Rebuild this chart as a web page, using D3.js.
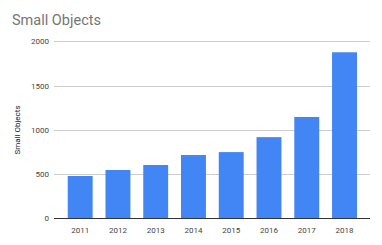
<!DOCTYPE html>
<html>
<head>
<meta charset="utf-8">
<script src="https://cdn.jsdelivr.net/npm/d3@7"></script>
<style>
  body { margin: 0; background: #fff; }
  text { font-family: Roboto, Arial, sans-serif; }
</style>
</head>
<body>
<div id="chart"></div>
<script>
var years = ["2011", "2012", "2013", "2014", "2015", "2016", "2017", "2018"];
var counts = [478, 546, 602, 715, 748, 917, 1145, 1876];
var yTicks = [0, 500, 1000, 1500, 2000];

var width = 382, height = 245;

var svg = d3.select("#chart")
    .append("svg")
    .attr("width", width)
    .attr("height", height);

var x = d3.scaleBand()
    .domain(years)
    .range([61.3, 363.4])
    .paddingInner(0.34)
    .paddingOuter(0.17);

var y = d3.scaleLinear()
    .domain([0, 2000])
    .range([218.3, 41.3]);

// gridlines
svg.selectAll(".grid")
    .data(yTicks.filter(function (d) { return d > 0; }))
    .enter()
    .append("line")
    .attr("x1", 54)
    .attr("x2", 370)
    .attr("y1", function (d) { return Math.round(y(d)) + 0.5; })
    .attr("y2", function (d) { return Math.round(y(d)) + 0.5; })
    .style("stroke", "#cccccc")
    .style("stroke-width", 1);

svg.selectAll(".ytick")
    .data(yTicks)
    .enter()
    .append("text")
    .attr("x", 49)
    .attr("y", function (d) { return y(d) + 3; })
    .attr("text-anchor", "end")
    .style("font-size", "8px")
    .style("fill", "#444")
    .text(function (d) { return d; });

// bars
svg.selectAll(".bar")
    .data(counts)
    .enter()
    .append("rect")
    .attr("x", function (d, i) { return x(years[i]); })
    .attr("width", x.bandwidth())
    .attr("y", function (d) { return y(d); })
    .attr("height", function (d) { return y(0) - y(d); })
    .style("fill", "#4285f4");

// baseline
svg.append("line")
    .attr("x1", 54)
    .attr("x2", 370)
    .attr("y1", Math.round(y(0)) + 0.5)
    .attr("y2", Math.round(y(0)) + 0.5)
    .style("stroke", "#333")
    .style("stroke-width", 1);

svg.selectAll(".xtick")
    .data(years)
    .enter()
    .append("text")
    .attr("x", function (d) { return x(d) + x.bandwidth() / 2; })
    .attr("y", 233)
    .attr("text-anchor", "middle")
    .style("font-size", "8px")
    .style("fill", "#444")
    .text(function (d) { return d; });

// titles
svg.append("text")
    .attr("x", 12)
    .attr("y", 25)
    .style("font-size", "14.5px")
    .style("fill", "#757575")
    .text("Small Objects");

svg.append("text")
    .attr("transform", "translate(20,130) rotate(-90)")
    .attr("text-anchor", "middle")
    .style("font-size", "8px")
    .style("fill", "#222")
    .text("Small Objects");
</script>
</body>
</html>
